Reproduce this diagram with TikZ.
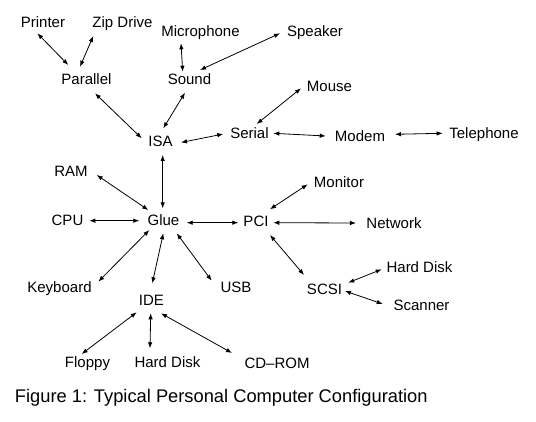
\documentclass[tikz,border=0pt]{standalone}
\usepackage{fontspec}
\setmainfont{Liberation Sans}
\usetikzlibrary{arrows.meta,calc}
\tikzset{
  lbl/.style={inner sep=0pt, outer sep=0pt, text height=10.7pt, text depth=0pt, font=\fontsize{15}{15}\selectfont},
  arr/.style={line width=0.8pt, {Latex[length=6pt,width=4.5pt]}-{Latex[length=6pt,width=4.5pt]}},
  figcap/.style={inner sep=0pt, outer sep=0pt, anchor=west, text height=13.1pt, text depth=0pt, font=\fontsize{18.3}{18.3}\selectfont}
}
\newcommand\lnk[4]{\draw[arr] ($(#1)+(#2)$) -- ($(#3)+(#4)$);}
\begin{document}
\begin{tikzpicture}[x=1pt,y=-1pt]
\useasboundingbox (0,0) rectangle (536,422);
\node[lbl] (prn) at (43,22) {Printer};
\node[lbl] (zip) at (122.5,22) {Zip Drive};
\node[lbl] (mic) at (200.5,31.5) {Microphone};
\node[lbl] (spk) at (315,31) {Speaker};
\node[lbl] (par) at (86.5,79) {Parallel};
\node[lbl] (snd) at (189.5,79.5) {Sound};
\node[lbl] (mou) at (329.5,86) {Mouse};
\node[lbl] (isa) at (160.5,141) {ISA};
\node[lbl] (ser) at (249.5,133.5) {Serial};
\node[lbl] (mod) at (360,136.5) {Modem};
\node[lbl] (tel) at (484,133) {Telephone};
\node[lbl] (ram) at (71,171.5) {RAM};
\node[lbl] (mon) at (339,182.5) {Monitor};
\node[lbl] (cpu) at (67.5,220.5) {CPU};
\node[lbl] (glu) at (163.5,220.5) {Glue};
\node[lbl] (pci) at (256,221.5) {PCI};
\node[lbl] (net) at (394,223.5) {Network};
\node[lbl] (hda) at (419.5,267) {Hard Disk};
\node[lbl] (kbd) at (59.5,287) {Keyboard};
\node[lbl] (usb) at (236,287.5) {USB};
\node[lbl] (scs) at (324.5,289) {SCSI};
\node[lbl] (ide) at (151.5,300) {IDE};
\node[lbl] (scn) at (421.5,305.5) {Scanner};
\node[lbl] (flp) at (87.5,362) {Floppy};
\node[lbl] (hdb) at (167.5,362) {Hard Disk};
\node[lbl] (cdr) at (277,363) {CD--ROM};
\node[figcap] (fig) at (15,396) {Figure 1: Typical Personal Computer Configuration};
\lnk{prn}{-5.7,11.3}{par}{-18.2,-14}
\lnk{zip}{-29.2,14}{par}{-6.5,-12.3}
\lnk{mic}{-19.5,11.8}{snd}{-6.8,-7.8}
\lnk{spk}{-35,2.3}{snd}{10.5,-9.5}
\lnk{par}{8.5,14.3}{isa}{-18.8,-2.7}
\lnk{snd}{-4.5,13.2}{isa}{2.8,-12.7}
\lnk{isa}{20.5,1.5}{ser}{-26.2,0.5}
\lnk{ser}{7.2,-9.5}{mou}{-28.5,2.3}
\lnk{ser}{23.8,-0.2}{mod}{-34.3,-0.5}
\lnk{mod}{35,-2.2}{tel}{-41.3,0.3}
\lnk{isa}{2.2,14}{glu}{-0.8,-12.2}
\lnk{ram}{25.7,3.5}{glu}{-15.2,-10.5}
\lnk{cpu}{21.8,0.2}{glu}{-24.2,0.2}
\lnk{glu}{23.2,2.2}{pci}{-17.7,1.2}
\lnk{pci}{14,-12.2}{mon}{-31.3,1.8}
\lnk{pci}{17.3,1.2}{net}{-38,-0.5}
\lnk{pci}{14,13.5}{scs}{-20.5,-14}
\lnk{scs}{23.8,-6.3}{hda}{-37.8,2.3}
\lnk{scs}{20.5,2}{scn}{-38.8,-1.5}
\lnk{glu}{-14.2,9.5}{kbd}{38.8,-5.3}
\lnk{glu}{-0.2,12.8}{ide}{0.8,-16.7}
\lnk{glu}{13.2,12.8}{usb}{-24.3,-6.8}
\lnk{ide}{-14.8,12.3}{flp}{-5.8,-8}
\lnk{ide}{-0.8,13.3}{hdb}{-17.5,-13.7}
\lnk{ide}{9.5,13.3}{cdr}{-45,-10}
\end{tikzpicture}
\end{document}
